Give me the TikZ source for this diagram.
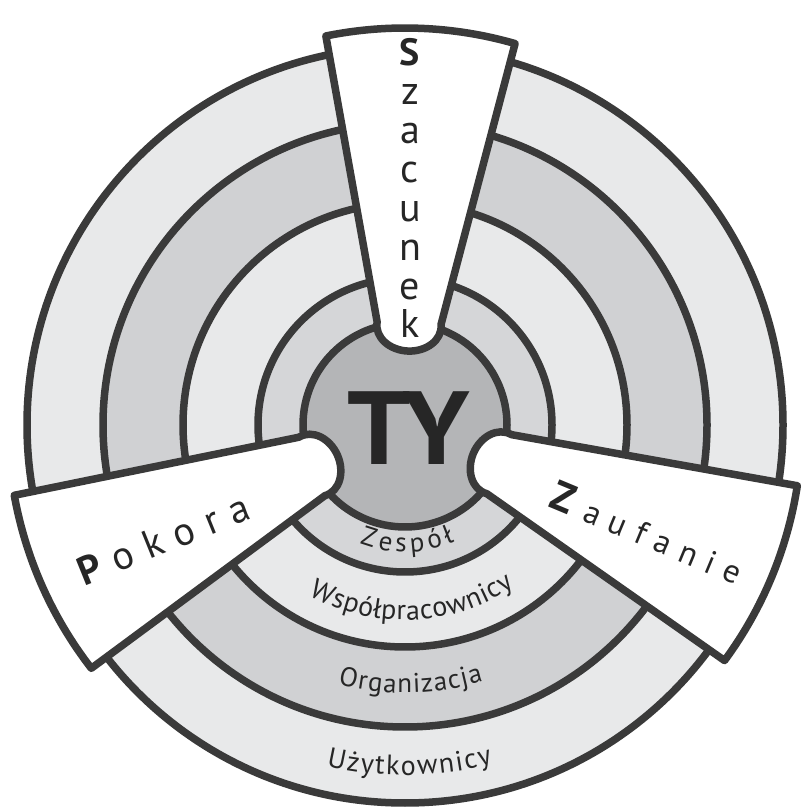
\documentclass[tikz,border=0pt]{standalone}
\usepackage{fontspec}
\setmainfont{PT Sans}
\newfontfamily\spaced[LetterSpace=32]{PT Sans}
\usetikzlibrary{decorations.text}
\definecolor{lineC}{HTML}{3A3A3A}
\definecolor{ringL}{HTML}{E8E9EA}
\definecolor{ringM}{HTML}{D0D1D3}
\definecolor{ringZ}{HTML}{D5D6D8}
\definecolor{coreC}{HTML}{B4B5B7}
\definecolor{txtC}{HTML}{262626}
\begin{document}
\begin{tikzpicture}[x=1pt,y=1pt,
  ring/.style={draw=lineC, line width=7.5pt},
  petal/.style={draw=lineC, fill=white, line width=7.5pt, line join=round},
  sztxt/.style={text=txtC, font=\fontsize{40}{40}\selectfont, inner sep=0pt, anchor=base},
  arctxt/.style={decorate, decoration={text along path, text color=txtC, text align=fit to path}}]
\useasboundingbox (0,0) rectangle (803,808);
\fill[white] (0,0) rectangle (803,808);
\coordinate (C) at (405,383);
% rings
\draw[ring, fill=ringL] (C) circle[radius=378];
\draw[ring, fill=ringM] (C) circle[radius=302];
\draw[ring, fill=ringL] (C) circle[radius=222];
\draw[ring, fill=ringZ] (C) circle[radius=147];
\draw[ring, fill=coreC] (C) circle[radius=102];
% petals
\foreach \rot in {-2.3, 114, -112.6} {
  \begin{scope}[shift={(C)}, rotate=\rot]
    \draw[petal] (103.8:397) arc[start angle=103.8, end angle=76.2, radius=397]
      -- (32,102) .. controls (34,86) and (18,74) .. (0,74)
      .. controls (-18,74) and (-34,86) .. (-32,102) -- cycle;
  \end{scope}
}
% centre
\node[text=txtC, font=\fontsize{100}{100}\selectfont\bfseries, inner sep=0pt] (ty) at (409,380) {\scalebox{1.12}[1.04]{TY}};
% Szacunek
\node[sztxt, font=\fontsize{38}{38}\selectfont\bfseries] (sz0) at (410,742) {S};
\foreach \ch/\yy [count=\i] in {z/703, a/664, c/625, u/586, n/547, e/508, k/470}
  \node[sztxt] (sz\i) at (410,\yy) {\ch};
% Pokora
\node[text=txtC, inner sep=0pt, anchor=base, rotate=22] (pokora) at (169,256)
  {\fontsize{40}{40}\spaced\textbf{P}okora};
% Zaufanie
\node[text=txtC, inner sep=0pt, anchor=base, rotate=-22.6] (zaufanie) at (642,262)
  {\fontsize{33}{33}\spaced{\fontsize{42}{42}\selectfont\textbf{Z}}aufanie};
% ring labels
\path[arctxt, decoration={text={|\fontsize{27}{27}\selectfont|Zespół}}]
  (C) ++(249:127) arc[start angle=249, end angle=293, radius=127];
\path[arctxt, decoration={text={|\fontsize{28}{28}\selectfont|Współpracownicy}}]
  (C) ++(240.5:195) arc[start angle=240.5, end angle=304, radius=195];
\path[arctxt, decoration={text={|\fontsize{27}{27}\selectfont|Organizacja}}]
  (C) ++(255.5:268) arc[start angle=255.5, end angle=287, radius=268];
\path[arctxt, decoration={text={|\fontsize{28}{28}\selectfont|Użytkownicy}}]
  (C) ++(257:350) arc[start angle=257, end angle=284.5, radius=350];
\end{tikzpicture}
\end{document}
